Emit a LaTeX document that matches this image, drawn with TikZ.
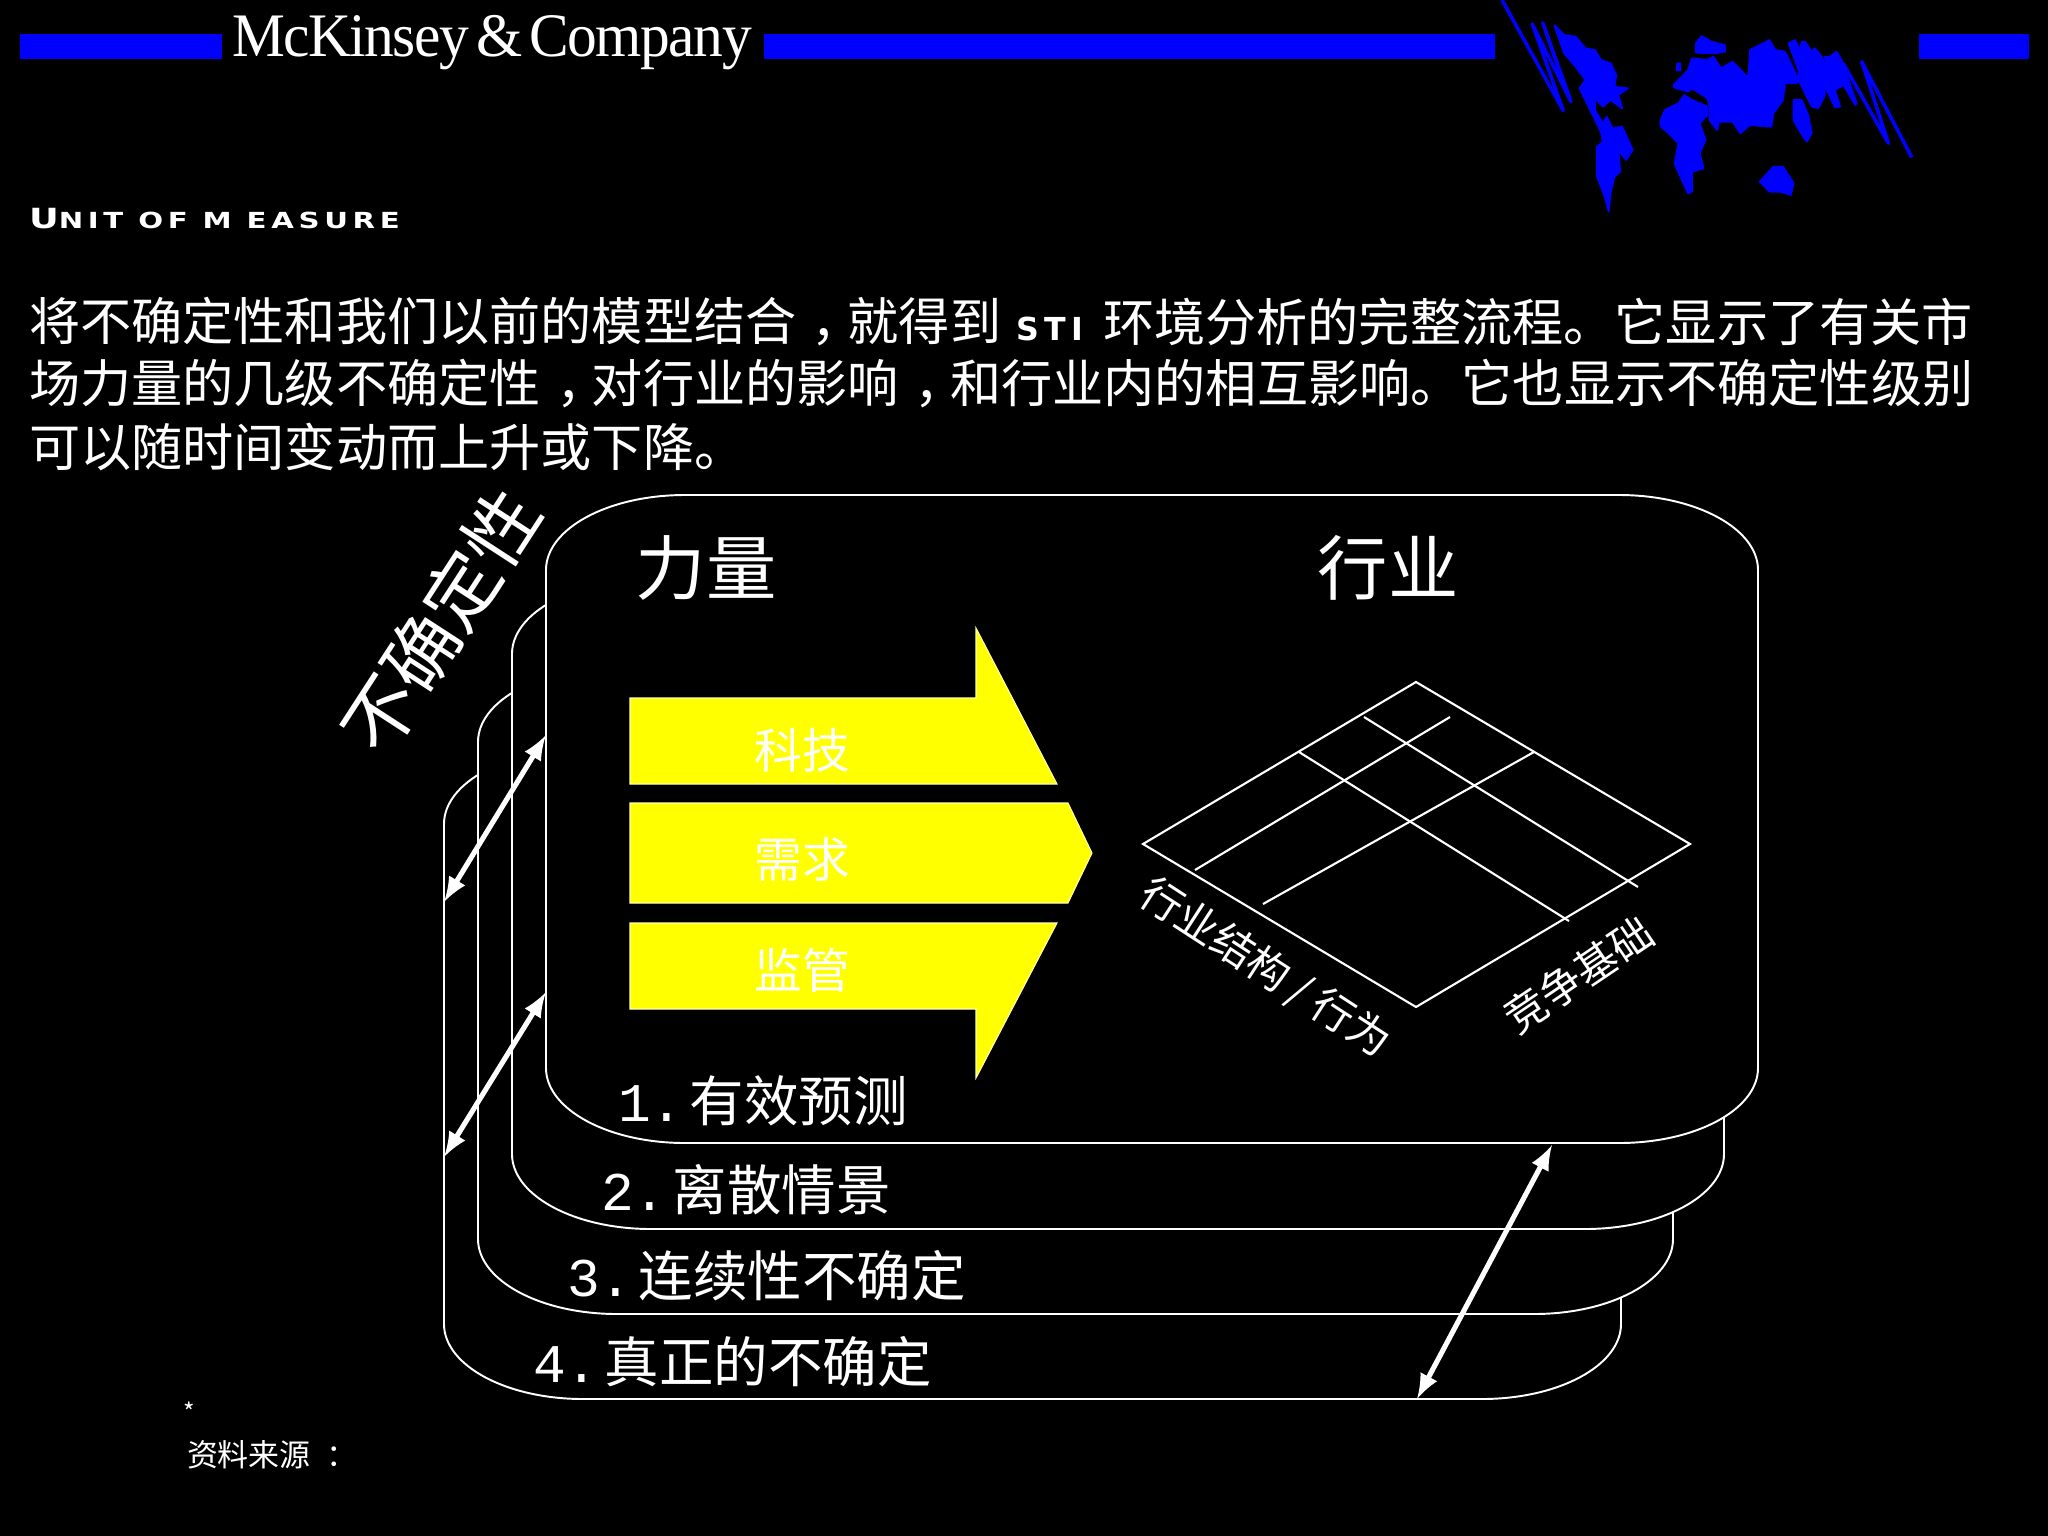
\documentclass[tikz,border=0pt]{standalone}
\usepackage{fontspec}
\usepackage{tikz}
\usetikzlibrary{calc,arrows}
\newfontfamily\cjk{Noto Sans CJK SC}
\newfontfamily\logofont[LetterSpace=-2.5]{Liberation Serif}
\newfontfamily\numfont{Liberation Mono}
\newfontfamily\headfont[LetterSpace=16]{DejaVu Sans}
\definecolor{forceyellow}{RGB}{255,255,0}
\definecolor{mapblue}{RGB}{0,0,255}
\newcommand{\stepnum}[2]{\makebox[20.4pt][l]{\numfont #1.}#2}
\newcommand{\midcomma}{\makebox[1em][l]{\hspace{.3em}，}}
\tikzset{
    txt/.style={text=white,inner sep=0pt,outer sep=0pt},
    bodytext/.style={txt,anchor=west,font=\cjk\fontsize{14.55}{17}\selectfont},
    steptext/.style={txt,anchor=west,font=\cjk\fontsize{15.5}{18}\selectfont},
    titletext/.style={txt,font=\cjk\fontsize{20}{24}\selectfont},
    forcetext/.style={txt,font=\cjk\fontsize{13.6}{16}\selectfont},
    axistext/.style={txt,font=\cjk\fontsize{12}{15}\selectfont},
    cardline/.style={draw=white,fill=black,line width=.55pt},
    gridline/.style={draw=white,line width=.6pt},
    yellowarrow/.style={draw=white!70!forceyellow,fill=forceyellow,line width=.3pt},
    bandarrow/.style={latex-latex,white,line width=1.45pt},
    mapfill/.style={fill=mapblue,draw=mapblue,line width=.5pt,line join=round},
    mapstreak/.style={draw=mapblue,line width=1pt,line join=round}
}
\begin{document}
\begin{tikzpicture}[x=.01cm,y=-.01cm]
    \fill[black] (0,0) rectangle (2048,1536);
    \useasboundingbox (0,0) rectangle (2048,1536);
    % header
    \fill[mapblue] (20,34) rectangle (222,59);
    \fill[mapblue] (764,34) rectangle (1495,59);
    \fill[mapblue] (1919,34) rectangle (2029,59);
    \node[txt,xscale=.96,anchor=base west,font=\logofont\fontsize{17.6}{20}\selectfont] (logo) at (232,56) {McKinsey\hspace{.12em}\&\hspace{.12em}Company};
    \node[txt,xscale=1.32,anchor=base west,font=\headfont\bfseries\fontsize{6.3}{8}\selectfont] (unit) at (29,228) {{\fontsize{7.9}{8}\selectfont U}NIT OF M EASURE};
    % world map
    \begin{scope}[shift={(1440,0)},xscale=.3876,yscale=.3333]
        \draw[mapstreak] (160,0) -- (318,332) -- (238,72) -- (338,305) -- (265,68) -- (310,220);
        \draw[mapstreak] (1040,190) -- (1157,430) -- (1088,185) -- (1217,472);
        \filldraw[mapfill] (295,75) -- (320,105) -- (350,110) -- (375,145) -- (400,150) -- (415,180) -- (440,190) -- (455,225) -- (450,260) -- (485,265) -- (460,285) -- (470,325) -- (440,300) -- (420,320) -- (400,295) -- (400,330) -- (420,370) -- (430,350) -- (445,385) -- (470,380) -- (497,450) -- (480,480) -- (460,450) -- (465,515) -- (450,530) -- (440,580) -- (435,635) -- (425,590) -- (405,530) -- (405,440) -- (420,425) -- (415,395) -- (360,265) -- (375,240) -- (350,200) -- (320,160) -- cycle;
        \filldraw[mapfill] (660,130) -- (675,108) -- (700,125) -- (735,135) -- (735,155) -- (705,160) -- (660,158) -- cycle;
        \filldraw[mapfill] (612,190) -- (620,190) -- (620,212) -- (610,210) -- cycle;
        \filldraw[mapfill] (603,255) -- (640,210) -- (650,175) -- (690,180) -- (705,170) -- (725,205) -- (755,185) -- (780,215) -- (795,235) -- (800,150) -- (850,120) -- (865,150) -- (890,155) -- (905,190) -- (925,240) -- (920,250) -- (890,250) -- (885,300) -- (860,340) -- (855,380) -- (830,378) -- (800,375) -- (775,400) -- (755,365) -- (720,365) -- (715,390) -- (695,360) -- (695,320) -- (690,295) -- (650,265) -- (640,275) -- (603,262) -- cycle;
        \filldraw[mapfill] (568,365) -- (580,330) -- (615,310) -- (630,285) -- (650,300) -- (690,320) -- (690,345) -- (670,370) -- (685,420) -- (670,460) -- (680,505) -- (650,515) -- (650,575) -- (640,580) -- (620,530) -- (605,490) -- (615,430) -- (590,400) -- (570,380) -- cycle;
        \filldraw[mapfill] (899,130) -- (916,120) -- (929,150) -- (933,125) -- (942,125) -- (959,155) -- (967,145) -- (985,170) -- (998,210) -- (993,170) -- (1006,170) -- (1023,155) -- (1036,180) -- (1075,310) -- (1071,315) -- (1041,255) -- (1019,270) -- (1032,320) -- (1019,322) -- (989,250) -- (993,285) -- (976,325) -- (959,320) -- (925,240) -- (925,210) -- cycle;
        \filldraw[mapfill] (912,300) -- (933,300) -- (950,345) -- (959,400) -- (946,425) -- (929,395) -- (912,360) -- cycle;
        \filldraw[mapfill] (825,545) -- (860,500) -- (885,500) -- (912,550) -- (905,585) -- (880,575) -- (850,575) -- cycle;
    \end{scope}
    % body text
    \node[bodytext] (line1a) at (29,322) {将不确定性和我们以前的模型结合\midcomma 就得到};
    \node[txt,anchor=center,font=\headfont\bfseries\fontsize{9}{10}\selectfont] (sti) at (1050,329) {STI};
    \node[bodytext] (line1b) at (1103,322) {环境分析的完整流程。它显示了有关市};
    \node[bodytext] (line2) at (29,384) {场力量的几级不确定性\midcomma 对行业的影响\midcomma 和行业内的相互影响。它也显示不确定性级别};
    \node[bodytext] (line3) at (29,447) {可以随时间变动而上升或下降。};
    % cards
    \foreach \l/\t/\r/\b in {444/749/1621/1399,478/667/1673/1314,512/579/1724/1229,546/495/1758/1143}
    \draw[cardline] (\l,\t+75) arc[start angle=180,end angle=270,x radius=139,y radius=75]
        -- (\r-139,\t) arc[start angle=270,end angle=360,x radius=139,y radius=75]
        -- (\r,\b-75) arc[start angle=0,end angle=90,x radius=139,y radius=75]
        -- (\l+139,\b) arc[start angle=90,end angle=180,x radius=139,y radius=75] -- cycle;
    % double arrows between the cards
    \coordinate (leftTopIn) at (546,735);
    \coordinate (leftTopOut) at (444,902);
    \coordinate (leftLowIn) at (546,992);
    \coordinate (leftLowOut) at (444,1157);
    \coordinate (rightIn) at (1552,1145);
    \coordinate (rightOut) at (1417,1399);
    \draw[bandarrow] (leftTopIn) -- (leftTopOut);
    \draw[bandarrow] (leftLowIn) -- (leftLowOut);
    \draw[bandarrow] (rightIn) -- (rightOut);
    \node[txt,rotate=57,font=\cjk\fontsize{21}{25}\selectfont] (uncertain) at (441,621) {不确定性};
    \node[titletext] (forces) at (706,568) {力量};
    \node[titletext] (industry) at (1388,568) {行业};
    % forces
    \draw[yellowarrow] (630,698) -- (976,698) -- (976,628) -- (1057,784) -- (630,784) -- cycle;
    \draw[yellowarrow] (630,803) -- (1068,803) -- (1092,853) -- (1068,903) -- (630,903) -- cycle;
    \draw[yellowarrow] (630,923) -- (1057,923) -- (976,1078) -- (976,1009) -- (630,1009) -- cycle;
    \node[forcetext] (tech) at (802,750) {科技};
    \node[forcetext] (demand) at (802,859) {需求};
    \node[forcetext] (regulation) at (802,970) {监管};
    % industry grid
    \draw[gridline] (1416,682) -- (1690,844) -- (1416,1007) -- (1143,844) -- cycle;
    \draw[gridline] (1364,717) -- (1638,887);
    \draw[gridline] (1299,752) -- (1569,921);
    \draw[gridline] (1195,870) -- (1450,717);
    \draw[gridline] (1263,904) -- (1534,752);
    \node[axistext,rotate=-33] (structure) at (1265,968) {行业结构 / 行为};
    \node[axistext,rotate=34] (basis) at (1578,975) {竞争基础};
    % levels
    \node[steptext] (level1) at (618,1101) {\stepnum{1}{有效预测}};
    \node[steptext] (level2) at (601,1190) {\stepnum{2}{离散情景}};
    \node[steptext] (level3) at (567,1276) {\stepnum{3}{连续性不确定}};
    \node[steptext] (level4) at (533,1362) {\stepnum{4}{真正的不确定}};
    % source
    \node[txt,font=\cjk\fontsize{7}{8}\selectfont] (star) at (189,1412) {*};
    \node[txt,anchor=west,font=\cjk\fontsize{8.8}{10}\selectfont] (source) at (187,1455) {资料来源\hspace{4.5pt}：};
\end{tikzpicture}
\end{document}
